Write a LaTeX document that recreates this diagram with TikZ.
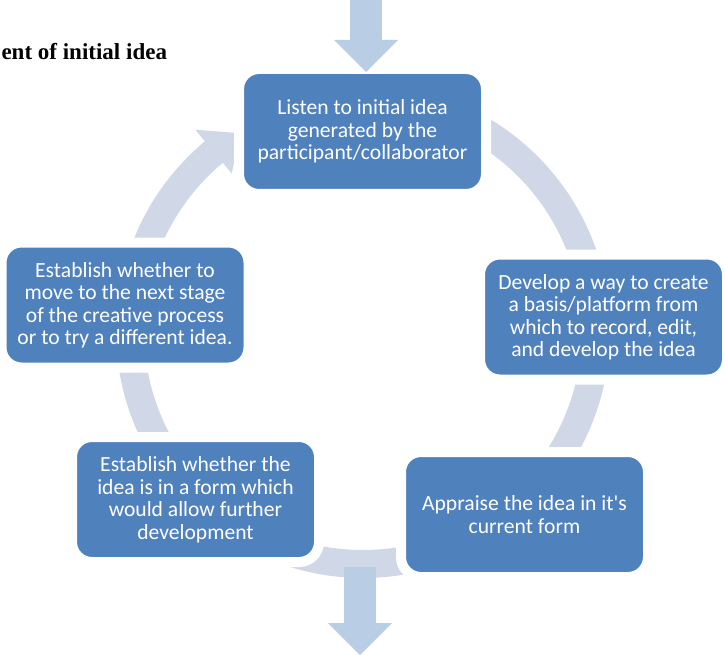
\documentclass[tikz,border=0pt]{standalone}
\usepackage{fontspec}
\setmainfont{Carlito}
\newfontfamily\titlefont{Liberation Serif}
\usetikzlibrary{arrows.meta}
\definecolor{boxblue}{HTML}{4F81BD}
\definecolor{ringgrey}{HTML}{D0D8E8}
\definecolor{flowblue}{HTML}{B9CDE5}
% clockwise ring arrow: start angle, angle of head base, angle of tip
\newcommand{\cyclearc}[3]{%
  \fill[ringgrey] (#1:219pt) arc[start angle=#1, end angle=#2, radius=219pt]
    -- (#2:205pt) -- (#3:233pt) -- (#2:262pt) -- (#2:247pt)
    arc[start angle=#2, end angle=#1, radius=247pt] -- cycle;}

\begin{document}
\begin{tikzpicture}[x=1pt,y=1pt,
   stage/.style={draw=white,line width=10pt,fill=boxblue,rounded corners=20pt,
     minimum width=247pt,minimum height=125pt,outer sep=0pt,
     text=white,align=center,font=\fontsize{21.6}{22.5}\selectfont},
   flow/.style={draw=flowblue,line width=32pt,
     -{Triangle[length=32pt,width=64pt,line width=0pt]}}]
\useasboundingbox (0,0) rectangle (725,-655);
\node[anchor=base west,font=\titlefont\bfseries\fontsize{23}{27}\selectfont]
   (title) at (-2,-60) {ent of initial idea};
% the ring of arrows
\coordinate (O) at (363,-331);
\begin{scope}[shift={(O)}]
\cyclearc{70}{10.9}{3}
\cyclearc{-5}{-44.1}{-52}
\cyclearc{-60}{-125}{-132.9}
\cyclearc{-145}{-177.1}{-185}
\cyclearc{165}{129.8}{121.9}
\end{scope}
% the stages
\node[stage] (A) at (362.5,-131.5) {Listen to initial idea\\generated by the\\participant/collaborator};
\node[stage] (B) at (603.5,-317) {Develop a way to create\\a basis/platform from\\which to record, edit,\\and develop the idea};
\node[stage] (C) at (524.5,-514.5) {Appraise the idea in it\textquotesingle s\\current form};
\node[stage] (D) at (195.5,-499.5) {Establish whether the\\idea is in a form which\\would allow further\\development};
\node[stage] (E) at (125,-305) {Establish whether to\\move to the next stage\\of the creative process\\or to try a different idea.};
% in and out
\coordinate (intop) at (366,0);
\coordinate (outtop) at (360,-567);
\coordinate (outend) at (360,-655);
\draw[flow,shorten >=-3pt] (intop) -- (intop |- A.north);
\draw[flow] (outtop) -- (outend);
\end{tikzpicture}
\end{document}
